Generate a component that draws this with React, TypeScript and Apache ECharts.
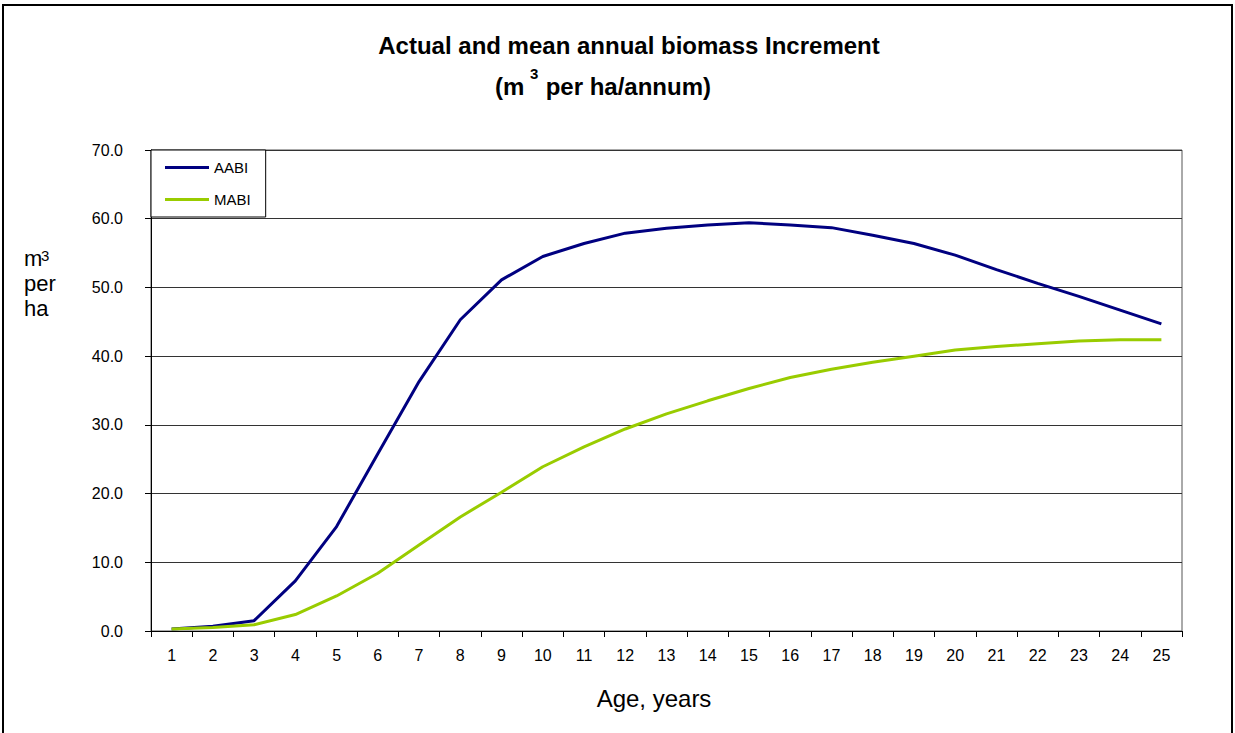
import React, { useEffect, useRef } from "react";
import * as echarts from "echarts";

const ages = ["1","2","3","4","5","6","7","8","9","10","11","12","13","14","15","16","17","18","19","20","21","22","23","24","25"];
const aabi = [0.3,0.7,1.5,7.3,15.2,25.8,36.3,45.3,51.1,54.5,56.4,57.9,58.6,59.1,59.4,59.1,58.7,57.6,56.4,54.7,52.6,50.6,48.7,46.7,44.7];
const mabi = [0.3,0.5,0.9,2.4,5.1,8.4,12.5,16.6,20.2,23.9,26.8,29.4,31.6,33.5,35.3,36.9,38.1,39.1,40.0,40.9,41.4,41.8,42.2,42.4,42.4];
const yTicks = [0,10,20,30,40,50,60,70];

const FONT = "'Liberation Sans', Arial, sans-serif";

export default function App() {
  const ref = useRef<HTMLDivElement>(null);
  useEffect(() => {
    if (!ref.current) return;
    const chart = echarts.init(ref.current, null, { renderer: "svg" });
    chart.setOption({
      animation: false,
      backgroundColor: "#fff",
      textStyle: { fontFamily: FONT },
      grid: {
        left: 151, right: 1235 - 1182, top: 150, bottom: 733 - 631,
        show: true, borderColor: "#555", borderWidth: 1,
      },
      legend: {
        orient: "vertical",
        left: 151, top: 150,
        padding: [10, 15, 10, 14],
        itemGap: 17,
        itemWidth: 44,
        itemHeight: 3,
        borderColor: "#000",
        borderWidth: 1,
        backgroundColor: "#fff",
        icon: "rect",
        textStyle: { fontSize: 15, color: "#000", fontFamily: FONT },
        data: ["AABI", "MABI"],
      },
      xAxis: {
        type: "category",
        data: ages,
        boundaryGap: true,
        axisLine: { lineStyle: { color: "#000", width: 1 } },
        axisTick: { show: true, alignWithLabel: false, length: 6, lineStyle: { color: "#000" } },
        axisLabel: { fontSize: 16, color: "#000", margin: 16, fontFamily: FONT },
        splitLine: { show: false },
      },
      yAxis: {
        type: "value",
        min: yTicks[0],
        max: yTicks[yTicks.length - 1],
        interval: 10,
        axisLine: { show: true, lineStyle: { color: "#000", width: 1 } },
        axisTick: { show: true, length: 6, lineStyle: { color: "#000" } },
        axisLabel: { fontSize: 16, color: "#000", margin: 28, fontFamily: FONT, formatter: (v: number) => v.toFixed(1) },
        splitLine: { show: true, lineStyle: { color: "#333", width: 1 } },
      },
      series: [
        {
          name: "AABI", type: "line", data: aabi, showSymbol: false, symbol: "none",
          lineStyle: { color: "#000080", width: 3 }, itemStyle: { color: "#000080" },
        },
        {
          name: "MABI", type: "line", data: mabi, showSymbol: false, symbol: "none",
          lineStyle: { color: "#99CC00", width: 3 }, itemStyle: { color: "#99CC00" },
        },
      ],
      graphic: [
        { type: "rect", shape: { x: 3, y: 5, width: 1229, height: 740 }, style: { fill: "none", stroke: "#000", lineWidth: 2 }, silent: true },
        { type: "text", x: 629, y: 45, style: { text: "Actual and mean annual biomass Increment", font: `bold 24px ${FONT}`, fill: "#000", textAlign: "center", textVerticalAlign: "middle" } },
        { type: "text", x: 495, y: 86, style: { text: "(m", font: `bold 24px ${FONT}`, fill: "#000", textAlign: "left", textVerticalAlign: "middle" } },
        { type: "text", x: 530, y: 73, style: { text: "3", font: `bold 15px ${FONT}`, fill: "#000", textAlign: "left", textVerticalAlign: "middle" } },
        { type: "text", x: 711, y: 86, style: { text: "per ha/annum)", font: `bold 24px ${FONT}`, fill: "#000", textAlign: "right", textVerticalAlign: "middle" } },
        { type: "text", x: 654, y: 698, style: { text: "Age, years", font: `24px ${FONT}`, fill: "#000", textAlign: "center", textVerticalAlign: "middle" } },
        { type: "text", x: 24, y: 258, style: { text: "m", font: `22px ${FONT}`, fill: "#000", textAlign: "left", textVerticalAlign: "middle" } },
        { type: "text", x: 41, y: 255, style: { text: "3", font: `15px ${FONT}`, fill: "#000", textAlign: "left", textVerticalAlign: "middle" } },
        { type: "text", x: 24, y: 283, style: { text: "per", font: `22px ${FONT}`, fill: "#000", textAlign: "left", textVerticalAlign: "middle" } },
        { type: "text", x: 24, y: 308, style: { text: "ha", font: `22px ${FONT}`, fill: "#000", textAlign: "left", textVerticalAlign: "middle" } },
      ],
    });
    return () => chart.dispose();
  }, []);
  return (
    <div
      ref={ref}
      style={{ position: "fixed", left: 0, top: 0, width: 1235, height: 733, background: "#fff" }}
    />
  );
}
